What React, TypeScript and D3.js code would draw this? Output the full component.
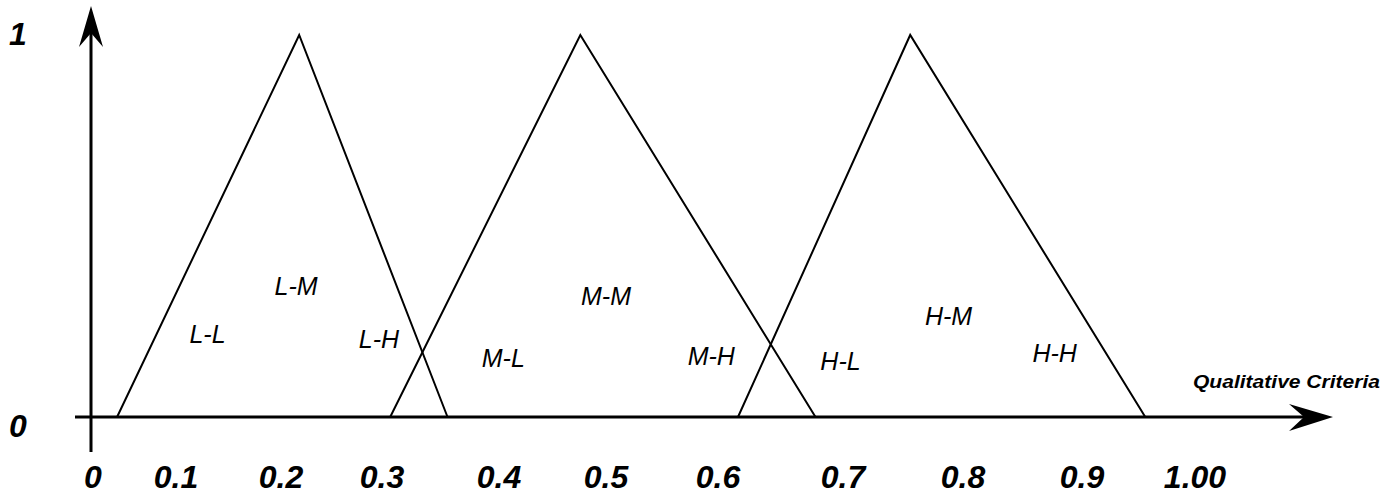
import React from "react";
import * as d3 from "d3";

// Tick labels along the criteria axis
const tickValues = [0, 0.1, 0.2, 0.3, 0.4, 0.5, 0.6, 0.7, 0.8, 0.9, 1.0];
const tickLabels = ["0", "0.1", "0.2", "0.3", "0.4", "0.5", "0.6", "0.7", "0.8", "0.9", "1.00"];
const yTickValues = [0, 1];
const yTickLabels = ["0", "1"];

// Triangular membership functions: [left foot, peak, right foot]
const triangleNames = ["L", "M", "H"];
const triangleLeft = [0.029, 0.307, 0.616];
const trianglePeak = [0.218, 0.476, 0.756];
const triangleRight = [0.356, 0.678, 0.956];

// Region labels (x in criteria units, y in membership degree)
const regionLabels = ["L-L", "L-M", "L-H", "M-L", "M-M", "M-H", "H-L", "H-M", "H-H"];
const regionX = [0.13, 0.215, 0.297, 0.404, 0.5, 0.594, 0.698, 0.788, 0.877];
const regionY = [0.194, 0.319, 0.181, 0.131, 0.293, 0.136, 0.123, 0.241, 0.144];

const axisTitle = "Qualitative Criteria";

const W = 1395;
const H = 495;

export default function App() {
  // piecewise-linear scale following the hand-drawn tick spacing
  const x = d3
    .scaleLinear()
    .domain(tickValues)
    .range([93, 176, 281, 382, 499, 606, 718, 843, 963, 1082, 1195]);
  const y = d3.scaleLinear().domain([0, 1]).range([417, 35]);

  const line = d3
    .line<[number, number]>()
    .x((d) => x(d[0]))
    .y((d) => y(d[1]));

  const axisX0 = 91;
  const axisY0 = y(0);
  const font = "'Liberation Sans', Arial, sans-serif";

  return (
    <svg
      width={W}
      height={H}
      style={{ position: "absolute", left: 0, top: 0, background: "#fff" }}
    >
      <rect width={W} height={H} fill="#fff" />
      {/* vertical axis */}
      <line x1={axisX0} y1={452} x2={axisX0} y2={30} stroke="#000" strokeWidth={3} />
      <path
        d={`M${axisX0},6 L${axisX0 + 12},47 L${axisX0},33 L${axisX0 - 12},47 Z`}
        fill="#000"
      />
      {/* horizontal axis */}
      <line x1={75} y1={axisY0} x2={1310} y2={axisY0} stroke="#000" strokeWidth={3} />
      <path
        d={`M1333,${axisY0} L1289,${axisY0 - 13} L1304,${axisY0} L1289,${axisY0 + 14} Z`}
        fill="#000"
      />
      {/* triangles */}
      {triangleNames.map((n, i) => (
        <path
          key={n}
          d={
            line([
              [triangleLeft[i], 0],
              [trianglePeak[i], 1],
              [triangleRight[i], 0],
            ]) || ""
          }
          fill="none"
          stroke="#000"
          strokeWidth={2}
        />
      ))}
      {/* x tick labels */}
      {tickValues.map((v, i) => (
        <text
          key={v}
          x={x(v)}
          y={488}
          textAnchor="middle"
          fontFamily={font}
          fontWeight="bold"
          fontStyle="italic"
          fontSize={32}
          fill="#000"
        >
          {tickLabels[i]}
        </text>
      ))}
      {/* y tick labels */}
      {yTickValues.map((v, i) => (
        <text
          key={v}
          x={18}
          y={y(v) + (v === 0 ? 20 : 10)}
          textAnchor="middle"
          fontFamily={font}
          fontWeight="bold"
          fontStyle="italic"
          fontSize={32}
          fill="#000"
        >
          {yTickLabels[i]}
        </text>
      ))}
      {/* region labels */}
      {regionLabels.map((t, i) => (
        <text
          key={t}
          x={x(regionX[i])}
          y={y(regionY[i])}
          textAnchor="middle"
          fontFamily={font}
          fontStyle="italic"
          fontSize={25}
          fill="#000"
        >
          {t}
        </text>
      ))}
      <text
        x={1193}
        y={388}
        fontFamily={font}
        fontStyle="italic"
        fontWeight="bold"
        fontSize={18}
        textLength={187}
        lengthAdjust="spacingAndGlyphs"
        fill="#000"
      >
        {axisTitle}
      </text>
    </svg>
  );
}
